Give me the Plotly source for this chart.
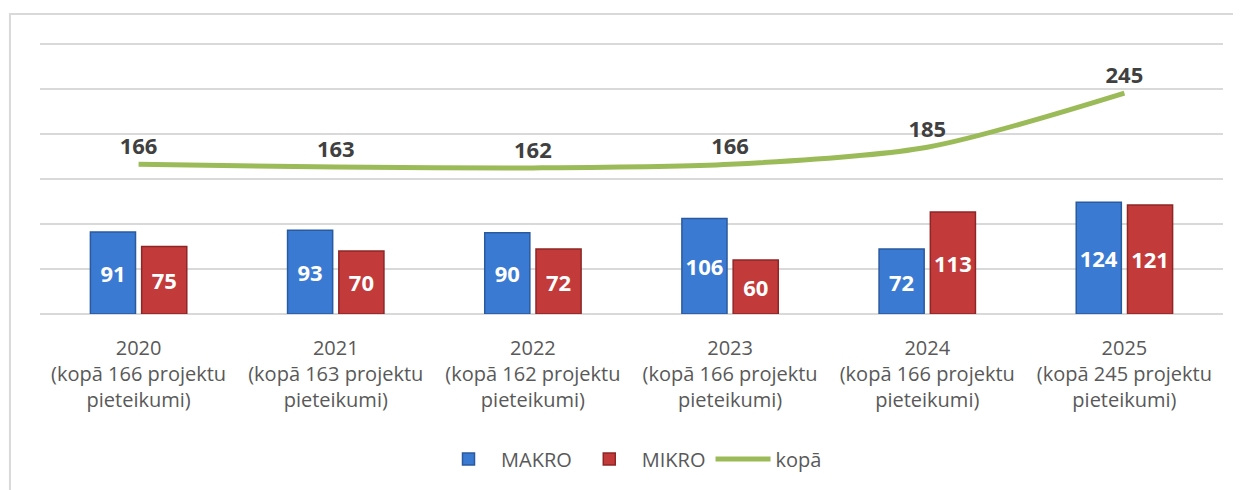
import plotly.graph_objects as go

categories = [
    "2020<br>(kopā 166 projektu<br>pieteikumi)",
    "2021<br>(kopā 163 projektu<br>pieteikumi)",
    "2022<br>(kopā 162 projektu<br>pieteikumi)",
    "2023<br>(kopā 166 projektu<br>pieteikumi)",
    "2024<br>(kopā 166 projektu<br>pieteikumi)",
    "2025<br>(kopā 245 projektu<br>pieteikumi)",
]
makro = [91, 93, 90, 106, 72, 124]
mikro = [75, 70, 72, 60, 113, 121]
kopa = [166, 163, 162, 166, 185, 245]

FONT = "Open Sans, Noto Sans, sans-serif"

fig = go.Figure()
fig.add_trace(go.Bar(
    name="MAKRO", x=categories, y=makro,
    marker=dict(color="#3A7AD2", line=dict(color="#2A5A9E", width=1.5)),
    text=makro, textposition="inside", insidetextanchor="middle",
    textfont=dict(color="white", size=22, family=FONT, weight="bold"),
))
fig.add_trace(go.Bar(
    name="MIKRO", x=categories, y=mikro,
    marker=dict(color="#C33A3A", line=dict(color="#8E2626", width=1.5)),
    text=mikro, textposition="inside", insidetextanchor="middle",
    textfont=dict(color="white", size=22, family=FONT, weight="bold"),
))
fig.add_trace(go.Scatter(
    name="kopā", x=categories, y=kopa, mode="lines+markers+text",
    line=dict(color="#9BBB59", width=5, shape="spline", smoothing=0.8),
    marker=dict(size=6, color="rgba(0,0,0,0)"),
    text=kopa, textposition="top center",
    textfont=dict(color="#404040", size=22, family=FONT, weight="bold"),
))

fig.update_layout(
    width=1233, height=482,
    margin=dict(l=32, r=18, t=31, b=176),
    paper_bgcolor="white", plot_bgcolor="white",
    barmode="group", bargap=0.48, bargroupgap=0.12,
    font=dict(family=FONT, color="#595959", size=20),
    showlegend=True,
    legend=dict(orientation="h", x=0.5, xanchor="center", y=-0.527, yanchor="middle",
                font=dict(size=20, color="#595959"), itemwidth=55,
                traceorder="normal"),
    shapes=[dict(type="rect", xref="paper", yref="paper",
                 x0=-0.0254, x1=1.1, y0=-0.8, y1=1.0909,
                 line=dict(color="#D9D9D9", width=2), fillcolor="rgba(0,0,0,0)",
                 layer="below")],
)
fig.update_xaxes(showgrid=False, showline=False, ticks="", tickfont=dict(size=20, color="#595959"),
                 ticklabelstandoff=20)
fig.update_yaxes(range=[0, 305], tickvals=[0, 50, 100, 150, 200, 250, 300], showgrid=True,
                 gridcolor="#D9D9D9", gridwidth=2,
                 showticklabels=False, zeroline=True, zerolinecolor="#D9D9D9", zerolinewidth=2)

fig.write_html("out.html")
